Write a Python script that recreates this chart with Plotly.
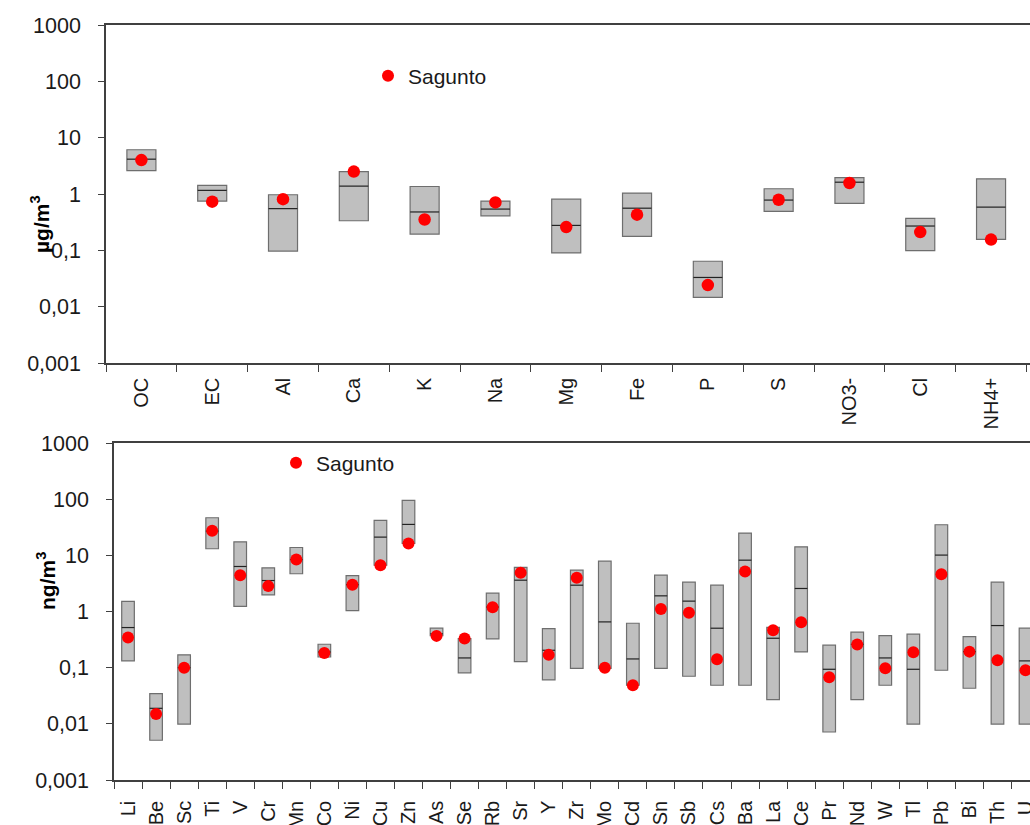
import plotly.graph_objects as go

# ---------------- data ----------------
top_cats = ["OC", "EC", "Al", "Ca", "K", "Na", "Mg", "Fe", "P", "S", "NO3-", "Cl", "NH4+"]
top_min = [2.6, 0.75, 0.097, 0.335, 0.194, 0.41, 0.09, 0.177, 0.0146, 0.49, 0.68, 0.099, 0.156]
top_max = [6.1, 1.42, 0.97, 2.5, 1.36, 0.75, 0.81, 1.04, 0.064, 1.24, 1.96, 0.37, 1.86]
top_med = [4.15, 1.16, 0.55, 1.38, 0.48, 0.54, 0.277, 0.56, 0.033, 0.78, 1.62, 0.27, 0.585]
top_sag = [4.0, 0.73, 0.81, 2.5, 0.353, 0.71, 0.259, 0.43, 0.0242, 0.79, 1.57, 0.211, 0.155]

bot_cats = ["Li", "Be", "Sc", "Ti", "V", "Cr", "Mn", "Co", "Ni", "Cu", "Zn", "As", "Se",
            "Rb", "Sr", "Y", "Zr", "Mo", "Cd", "Sn", "Sb", "Cs", "Ba", "La", "Ce", "Pr",
            "Nd", "W", "Tl", "Pb", "Bi", "Th", "U"]
bot_min = [0.132, 0.0051, 0.0099, 13.1, 1.23, 1.98, 4.7, 0.155, 1.04, 6.7, 16.3, 0.37, 0.081,
           0.325, 0.128, 0.0604, 0.0975, 0.0975, 0.0486, 0.0975, 0.0703, 0.0486, 0.0486, 0.027, 0.191, 0.00715,
           0.027, 0.0486, 0.0099, 0.09, 0.043, 0.0099, 0.0099]
bot_max = [1.51, 0.0345, 0.169, 46.7, 17.4, 6.0, 13.8, 0.261, 4.37, 41.8, 95.0, 0.504, 0.33,
           2.12, 6.08, 0.497, 5.45, 7.88, 0.618, 4.44, 3.33, 2.94, 24.9, 0.52, 14.2, 0.251,
           0.428, 0.373, 0.394, 35.0, 0.358, 3.33, 0.504]
bot_med = [0.518, 0.0189, 0.1, 27.0, 6.33, 3.56, 8.4, 0.19, 3.0, 21.1, 35.5, 0.4, 0.149,
           1.2, 3.61, 0.204, 2.94, 0.653, 0.143, 1.9, 1.53, 0.504, 8.2, 0.334, 2.57, 0.0936,
           0.26, 0.149, 0.0936, 10.1, 0.193, 0.562, 0.132]
bot_sag = [0.344, 0.015, 0.1, 27.4, 4.43, 2.83, 8.44, 0.183, 2.98, 6.69, 16.3, 0.368, 0.33,
           1.19, 4.88, 0.169, 3.98, 0.1, 0.0485, 1.11, 0.946, 0.141, 5.16, 0.464, 0.645, 0.0675,
           0.258, 0.0976, 0.188, 4.62, 0.193, 0.1355, 0.0899]

ytickvals = [0.001, 0.01, 0.1, 1, 10, 100, 1000]
yticktext = ["0,001", "0,01", "0,1", "1", "10", "100", "1000"]

W, H = 1030, 825
FONT = "Arial, Liberation Sans, sans-serif"
BOX_FILL = "#bfbfbf"
BOX_LINE = "#6e6e6e"
AX = "#404040"
TXT = "#1a1a1a"

fig = go.Figure()


def add_panel(cats, mn, mx, md, sg, xa, ya, bar_w, med_px, dot_size, legend_name):
    fig.add_trace(go.Bar(
        x=cats, base=mn, y=[b - a for a, b in zip(mn, mx)],
        width=bar_w, marker=dict(color=BOX_FILL, line=dict(color=BOX_LINE, width=1.2)),
        xaxis=xa, yaxis=ya, showlegend=False, hoverinfo="skip"))
    fig.add_trace(go.Scatter(
        x=cats, y=md, mode="markers",
        marker=dict(symbol="line-ew", size=med_px / 1.4, color="#222222",
                    line=dict(color="#222222", width=1.2)),
        xaxis=xa, yaxis=ya, showlegend=False, hoverinfo="skip"))
    fig.add_trace(go.Scatter(
        x=cats, y=sg, mode="markers", name="Sagunto",
        marker=dict(color="#ff0000", size=dot_size, line=dict(width=0)),
        xaxis=xa, yaxis=ya, showlegend=True, legend=legend_name))


add_panel(top_cats, top_min, top_max, top_med, top_sag, "x", "y", 0.41, 29, 12.5, "legend")
add_panel(bot_cats, bot_min, bot_max, bot_med, bot_sag, "x2", "y2", 0.45, 12.7, 12, "legend2")

top_y0, top_y1 = 25, 363
bot_y0, bot_y1 = 443, 780
top_x0, bot_x0 = 106, 114

common_x = dict(type="category", showline=True, linecolor=AX, linewidth=1.5, mirror=True,
                ticks="outside", ticklen=7, tickcolor=AX, tickwidth=1, tickson="boundaries",
                tickangle=-90, showgrid=False, zeroline=False, automargin=False,
                tickfont=dict(family=FONT, size=20, color=TXT))
common_y = dict(type="log", range=[-3, 3], tickvals=ytickvals, ticktext=yticktext,
                showline=True, linecolor=AX, linewidth=1.5, mirror=False,
                ticks="outside", ticklen=6, tickcolor=AX, tickwidth=1,
                showgrid=False, zeroline=False, ticklabelstandoff=13, automargin=False,
                tickfont=dict(family=FONT, size=21.5, color=TXT))

fig.update_layout(
    width=W, height=H, margin=dict(l=0, r=0, t=0, b=0, autoexpand=False),
    paper_bgcolor="white", plot_bgcolor="white", barmode="overlay",
    xaxis=dict(common_x, domain=[top_x0 / W, 1], anchor="y", range=[-0.5, 12.55],
               ticklabelstandoff=5),
    yaxis=dict(common_y, domain=[1 - top_y1 / H, 1 - top_y0 / H], anchor="x"),
    xaxis2=dict(common_x, domain=[bot_x0 / W, 1], anchor="y2", range=[-0.5, 32.16],
                tickfont=dict(family=FONT, size=20, color=TXT), ticklabelstandoff=11),
    yaxis2=dict(common_y, domain=[1 - bot_y1 / H, 1 - bot_y0 / H], anchor="x2"),
    legend=dict(x=368 / W, y=1 - 76 / H, xanchor="left", yanchor="middle",
                bgcolor="rgba(0,0,0,0)", font=dict(family=FONT, size=21, color=TXT),
                itemwidth=30, itemsizing="constant"),
    legend2=dict(x=276 / W, y=1 - 463 / H, xanchor="left", yanchor="middle",
                 bgcolor="rgba(0,0,0,0)", font=dict(family=FONT, size=21, color=TXT),
                 itemwidth=30, itemsizing="constant"),
    annotations=[
        dict(text="<b>µg/m<sup>3</sup></b>", x=25 / W, y=1 - 193 / H, xref="paper", yref="paper",
             textangle=-90, showarrow=False, font=dict(family=FONT, size=21, color="#000")),
        dict(text="<b>ng/m<sup>3</sup></b>", x=31 / W, y=1 - 612 / H, xref="paper", yref="paper",
             textangle=-90, showarrow=False, font=dict(family=FONT, size=21, color="#000")),
    ],
)

fig.write_html("out.html")
